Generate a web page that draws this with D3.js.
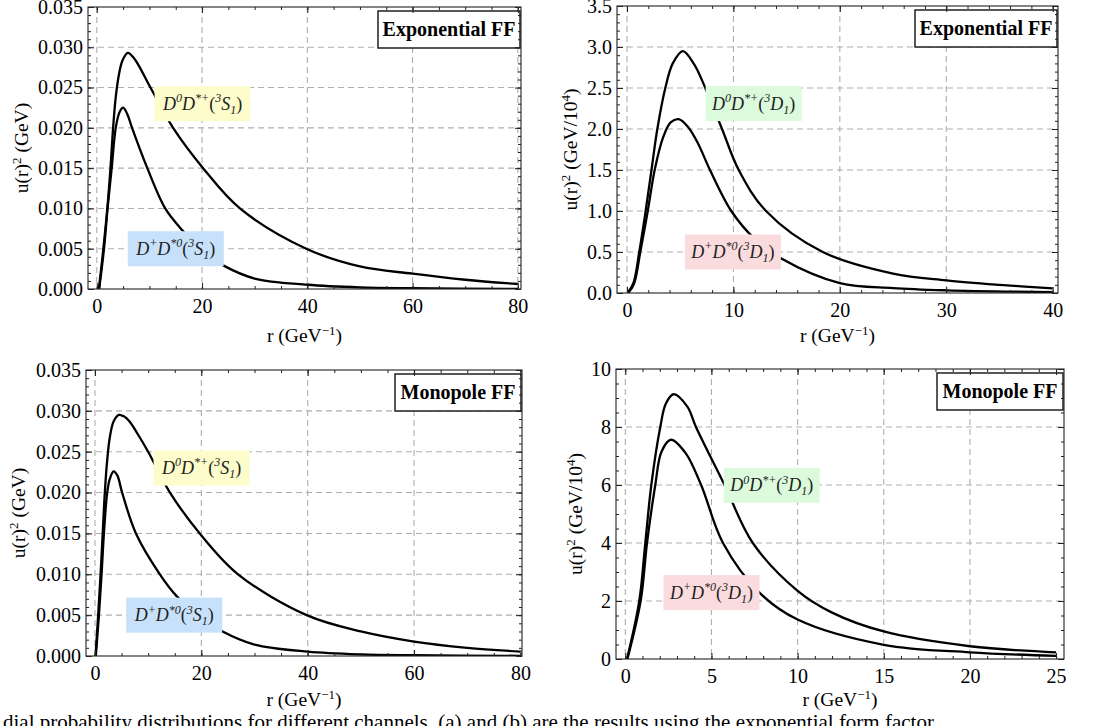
<!DOCTYPE html>
<html>
<head>
<meta charset="utf-8">
<script src="https://cdn.jsdelivr.net/npm/d3@7"></script>
<style>
body { margin: 0; background: #fff; }
svg { display: block; }
text { font-family: "Liberation Serif", "Times New Roman", serif; }
</style>
</head>
<body>
<svg></svg>
<script>
const width = 1093;
const height = 726;
const svg = d3.select("svg")
    .attr("width", width)
    .attr("height", height);

// (a) exponential FF, S-wave  (GeV)
const expS_D0_r = [0.4, 1.25, 2.0, 2.6, 3.1, 3.6, 4.2, 4.9, 5.9, 7.0, 8.0, 10.2, 14.5, 20.2, 27.2, 39.8, 50, 60, 70, 80];
const expS_D0_u = [0, 0.005, 0.010, 0.015, 0.020, 0.0238, 0.0266, 0.0284, 0.0293, 0.0287, 0.0277, 0.0250, 0.020, 0.015, 0.010, 0.005, 0.0028, 0.0019, 0.00115, 0.00062];
const expS_Dp_r = [0.45, 1.37, 2.05, 2.83, 3.6, 4.3, 5.0, 5.8, 6.7, 9.6, 13.0, 16.1, 20, 24.1, 30, 40, 50, 60, 80];
const expS_Dp_u = [0, 0.005, 0.010, 0.015, 0.020, 0.0219, 0.0225, 0.0217, 0.020, 0.015, 0.010, 0.0074, 0.0047, 0.0029, 0.0013, 0.00053, 0.0002, 0.0001, 0.00002];

// (b) exponential FF, D-wave  (GeV/10^4)
const expD_D0_r = [0.05, 0.6, 1.15, 1.75, 2.3, 2.85, 3.6, 4.3, 5.25, 6.3, 7.36, 8.93, 10.5, 13.06, 18.4, 25, 30, 35, 40];
const expD_D0_u = [0, 0.12, 0.5, 1.0, 1.5, 2.0, 2.5, 2.8, 2.95, 2.79, 2.5, 2.0, 1.5, 1.0, 0.5, 0.237, 0.155, 0.10, 0.057];
const expD_Dp_r = [0.1, 0.65, 1.25, 1.95, 2.6, 3.4, 4.1, 4.85, 5.7, 6.65, 7.8, 9.8, 12, 14.5, 20, 25, 30, 40];
const expD_Dp_u = [0, 0.11, 0.5, 1.0, 1.5, 1.9, 2.08, 2.12, 2.03, 1.83, 1.5, 1.0, 0.66, 0.42, 0.12, 0.06, 0.033, 0.01];

// (c) monopole FF, S-wave
const monS_D0_r = [0.1, 0.6, 1.05, 1.45, 1.85, 2.3, 2.8, 3.5, 4.5, 5.5, 6.5, 8.0, 10.0, 14.1, 19.7, 26.9, 39.8, 50, 60, 70, 80];
const monS_D0_u = [0, 0.005, 0.010, 0.015, 0.020, 0.024, 0.0268, 0.0287, 0.0295, 0.0293, 0.0287, 0.0272, 0.025, 0.020, 0.015, 0.010, 0.005, 0.003, 0.00176, 0.001, 0.00054];
const monS_Dp_r = [0.15, 0.74, 1.24, 1.68, 2.3, 2.8, 3.5, 4.2, 5.1, 7.7, 12.2, 15.4, 20, 24, 30, 40, 50, 60, 80];
const monS_Dp_u = [0, 0.005, 0.010, 0.015, 0.020, 0.0217, 0.0226, 0.0221, 0.020, 0.015, 0.010, 0.0073, 0.0047, 0.003, 0.0014, 0.00054, 0.0002, 0.0001, 0.00002];

// (d) monopole FF, D-wave
const monD_D0_r = [0.1, 0.81, 1.16, 1.51, 2.03, 2.35, 2.8, 3.6, 4.1, 5.76, 7.4, 10, 12, 15, 20, 25];
const monD_D0_u = [0, 2, 4, 6, 8, 8.8, 9.13, 8.7, 8, 6, 4, 2.35, 1.6, 0.95, 0.44, 0.23];
const monD_Dp_r = [0.12, 0.89, 1.26, 1.74, 2.1, 2.65, 3.5, 4.4, 5.67, 7.8, 10, 15, 20, 25];
const monD_Dp_u = [0, 2, 4, 6, 7.15, 7.56, 7.1, 6, 4, 2.28, 1.36, 0.49, 0.23, 0.11];

// tick labels
const xTicks80 = [0, 20, 40, 60, 80];
const xTicks40 = [0, 10, 20, 30, 40];
const xTicks25 = [0, 5, 10, 15, 20, 25];
const yTicksS = [0, 0.005, 0.010, 0.015, 0.020, 0.025, 0.030, 0.035];
const yTicksD = [0, 0.5, 1.0, 1.5, 2.0, 2.5, 3.0, 3.5];
const yTicksMD = [0, 2, 4, 6, 8, 10];

const legendNames = ["Exponential FF", "Monopole FF"];

// label pieces: [text, "" | "sup" | "sub"]
const labelD0S = [["D", ""], ["0", "sup"], ["D", ""], ["*+", "sup"], ["(", ""], ["3", "sup"], ["S", ""], ["1", "sub"], [")", ""]];
const labelDpS = [["D", ""], ["+", "sup"], ["D", ""], ["*0", "sup"], ["(", ""], ["3", "sup"], ["S", ""], ["1", "sub"], [")", ""]];
const labelD0D = [["D", ""], ["0", "sup"], ["D", ""], ["*+", "sup"], ["(", ""], ["3", "sup"], ["D", ""], ["1", "sub"], [")", ""]];
const labelDpD = [["D", ""], ["+", "sup"], ["D", ""], ["*0", "sup"], ["(", ""], ["3", "sup"], ["D", ""], ["1", "sub"], [")", ""]];

const panels = [
    {
        box: [88, 521, 7, 289], xDom: [-1.67, 80.6], yDom: [0, 0.035],
        xTicks: xTicks80, xMinor: 5, yTicks: yTicksS, yMinor: 0.001, yFmt: d3.format(".3f"),
        yUnit: "GeV", legend: legendNames[0],
        curves: [[expS_D0_r, expS_D0_u], [expS_Dp_r, expS_Dp_u]],
        labels: [
            {at: [20.1, 0.0230], fill: "#fdfccb", parts: labelD0S},
            {at: [15.0, 0.0050], fill: "#c8e1fa", parts: labelDpS}
        ],
        xLabelY: 342, yLabelGap: 60
    },
    {
        box: [617, 1058, 6, 293], xDom: [-0.94, 40.5], yDom: [0, 3.5],
        xTicks: xTicks40, xMinor: 2, yTicks: yTicksD, yMinor: 0.1, yFmt: d3.format(".1f"),
        yUnit: "GeV/10", yPow: "4", legend: legendNames[0],
        curves: [[expD_D0_r, expD_D0_u], [expD_Dp_r, expD_Dp_u]],
        labels: [
            {at: [11.9, 2.31], fill: "#dcfadc", parts: labelD0D},
            {at: [9.95, 0.50], fill: "#fadcde", parts: labelDpD}
        ],
        xLabelY: 342, yLabelGap: 40
    },
    {
        box: [86, 522, 370, 656], xDom: [-1.69, 80.3], yDom: [0, 0.035],
        xTicks: xTicks80, xMinor: 5, yTicks: yTicksS, yMinor: 0.001, yFmt: d3.format(".3f"),
        yUnit: "GeV", legend: legendNames[1],
        curves: [[monS_D0_r, monS_D0_u], [monS_Dp_r, monS_Dp_u]],
        labels: [
            {at: [20.05, 0.0230], fill: "#fdfccb", parts: labelD0S},
            {at: [14.9, 0.0050], fill: "#c8e1fa", parts: labelDpS}
        ],
        xLabelY: 706, yLabelGap: 61
    },
    {
        box: [616, 1064, 369, 659], xDom: [-0.54, 25.46], yDom: [0, 10],
        xTicks: xTicks25, xMinor: 1, yTicks: yTicksMD, yMinor: 0.5, yFmt: d3.format("d"),
        yUnit: "GeV/10", yPow: "4", legend: legendNames[1],
        curves: [[monD_D0_r, monD_D0_u], [monD_Dp_r, monD_Dp_u]],
        labels: [
            {at: [8.5, 5.99], fill: "#dcfadc", parts: labelD0D},
            {at: [5.0, 2.29], fill: "#fadcde", parts: labelDpD}
        ],
        xLabelY: 706, yLabelGap: 34
    }
];

function addPieces(text, parts, big, small) {
    let shift = 0;
    parts.forEach(([s, kind]) => {
        const target = kind === "sup" ? -0.42 * big : kind === "sub" ? 0.22 * big : 0;
        text.append("tspan")
            .attr("dy", target - shift)
            .attr("font-size", kind ? small : big)
            .attr("font-style", s === "(" || s === ")" ? "normal" : "italic")
            .text(s);
        shift = target;
    });
}

panels.forEach((p, i) => {
    const [x0, x1, y0, y1] = p.box;
    const x = d3.scaleLinear().domain(p.xDom).range([x0, x1]);
    const y = d3.scaleLinear().domain(p.yDom).range([y1, y0]);
    const g = svg.append("g");

    g.append("clipPath").attr("id", "clip" + i)
        .append("rect").attr("x", x0).attr("y", y0).attr("width", x1 - x0).attr("height", y1 - y0);

    // dashed grid
    g.selectAll(".gx").data(p.xTicks.filter(t => t > p.xDom[0] + 0.5 && t < p.xDom[1] - 0.5))
        .enter().append("line")
        .attr("x1", d => x(d)).attr("x2", d => x(d)).attr("y1", y0).attr("y2", y1)
        .attr("stroke", "#aeaeae").attr("stroke-width", 1.1).attr("stroke-dasharray", "6,4");
    g.selectAll(".gy").data(p.yTicks.filter(t => t > p.yDom[0] && t < p.yDom[1]))
        .enter().append("line")
        .attr("y1", d => y(d)).attr("y2", d => y(d)).attr("x1", x0).attr("x2", x1)
        .attr("stroke", "#aeaeae").attr("stroke-width", 1.1).attr("stroke-dasharray", "6,4");

    // curves
    const line = d3.line().x(d => x(d[0])).y(d => y(d[1])).curve(d3.curveCatmullRom.alpha(0.5));
    g.selectAll(".curve").data(p.curves).enter().append("path")
        .attr("clip-path", "url(#clip" + i + ")")
        .attr("d", c => line(d3.zip(c[0], c[1])))
        .attr("fill", "none").attr("stroke", "#000").attr("stroke-width", 2.3);

    // channel labels
    p.labels.forEach(l => {
        const cx = x(l.at[0]), cy = y(l.at[1]);
        g.append("rect").attr("x", cx - 48).attr("y", cy - 17.5).attr("width", 96).attr("height", 35)
            .attr("fill", l.fill);
        const t = g.append("text").attr("x", cx).attr("y", cy + 6)
            .attr("text-anchor", "middle").attr("fill", "#222");
        addPieces(t, l.parts, 18, 12);
    });

    // legend box
    const lw = p.legend === legendNames[0] ? 142 : 126;
    g.append("rect").attr("x", x1 - lw - 1).attr("y", y0 + 4).attr("width", lw).attr("height", 37)
        .attr("fill", "#fff").attr("stroke", "#111").attr("stroke-width", 1.4);
    g.append("text").attr("x", x1 - lw / 2 - 1).attr("y", y0 + 29)
        .attr("text-anchor", "middle").attr("font-weight", "bold").attr("font-size", 20)
        .text(p.legend);

    // frame
    g.append("rect").attr("x", x0).attr("y", y0).attr("width", x1 - x0).attr("height", y1 - y0)
        .attr("fill", "none").attr("stroke", "#222").attr("stroke-width", 1.1);

    // ticks, inward on all sides
    const xMinorTicks = d3.range(p.xTicks[0], p.xDom[1], p.xMinor);
    const yMinorTicks = d3.range(0, p.yDom[1] + p.yMinor / 2, p.yMinor);
    const styleAxis = a => {
        a.select(".domain").remove();
        a.attr("font-size", 20).attr("font-family", "Liberation Serif, Times New Roman, serif");
        a.selectAll("line").attr("stroke", "#222");
    };
    g.append("g").attr("transform", `translate(0,${y1})`)
        .call(d3.axisBottom(x).tickValues(xMinorTicks).tickSize(-3).tickFormat("")).call(styleAxis);
    g.append("g").attr("transform", `translate(0,${y0})`)
        .call(d3.axisTop(x).tickValues(xMinorTicks).tickSize(-3).tickFormat("")).call(styleAxis);
    g.append("g").attr("transform", `translate(0,${y1})`)
        .call(d3.axisBottom(x).tickValues(p.xTicks).tickSize(-6).tickPadding(10).tickFormat(d3.format("d"))).call(styleAxis);
    g.append("g").attr("transform", `translate(0,${y0})`)
        .call(d3.axisTop(x).tickValues(p.xTicks).tickSize(-6).tickFormat("")).call(styleAxis);
    g.append("g").attr("transform", `translate(${x0},0)`)
        .call(d3.axisLeft(y).tickValues(yMinorTicks).tickSize(-3).tickFormat("")).call(styleAxis);
    g.append("g").attr("transform", `translate(${x1},0)`)
        .call(d3.axisRight(y).tickValues(yMinorTicks).tickSize(-3).tickFormat("")).call(styleAxis);
    g.append("g").attr("transform", `translate(${x0},0)`)
        .call(d3.axisLeft(y).tickValues(p.yTicks).tickSize(-6).tickPadding(5).tickFormat(p.yFmt)).call(styleAxis);
    g.append("g").attr("transform", `translate(${x1},0)`)
        .call(d3.axisRight(y).tickValues(p.yTicks).tickSize(-6).tickFormat("")).call(styleAxis);

    // axis titles
    const xt = g.append("text").attr("x", (x0 + x1) / 2).attr("y", p.xLabelY)
        .attr("text-anchor", "middle").attr("font-size", 19.5);
    xt.append("tspan").text("r (GeV");
    xt.append("tspan").attr("dy", -7).attr("font-size", 13).text("\u22121");
    xt.append("tspan").attr("dy", 7).text(")");

    const yx = x0 - p.yLabelGap, yc = (y0 + y1) / 2;
    const yt = g.append("text").attr("transform", `translate(${yx},${yc}) rotate(-90)`)
        .attr("text-anchor", "middle").attr("font-size", 19.5);
    yt.append("tspan").text("u(r)");
    yt.append("tspan").attr("dy", -7).attr("font-size", 13).text("2");
    yt.append("tspan").attr("dy", 7).text(" (" + p.yUnit);
    if (p.yPow) {
        yt.append("tspan").attr("dy", -7).attr("font-size", 13).text(p.yPow);
        yt.append("tspan").attr("dy", 7).text(")");
    } else {
        yt.append("tspan").text(")");
    }
});

// caption line, cut by the picture edge
svg.append("text").attr("x", 3).attr("y", 729).attr("font-size", 21)
    .text("dial probability distributions for different channels. (a) and (b) are the results using the exponential form factor");
</script>
</body>
</html>
